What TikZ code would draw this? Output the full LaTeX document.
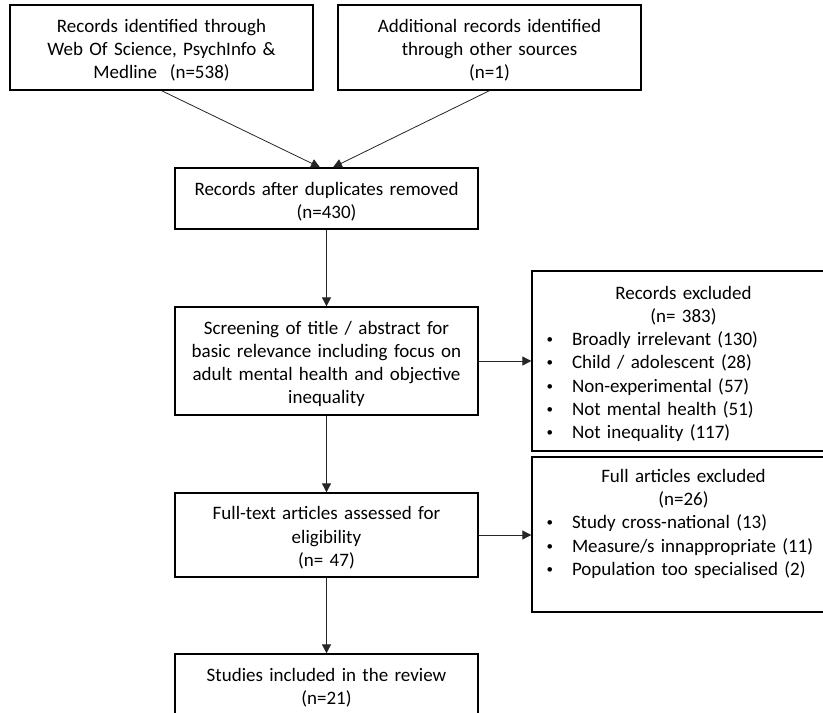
\documentclass[tikz,border=0pt]{standalone}
\usepackage{fontspec}
\setmainfont{Carlito}
\usepackage{tikz}
\usetikzlibrary{arrows.meta}
\newcommand{\boxwidth}{303pt}
\newcommand{\boxline}{1.3pt}
\newcommand{\arrowline}{0.8pt}
\newcommand{\topstrut}{\rule{0pt}{19pt}}
\newcommand{\smallbullet}{\raisebox{2pt}{\fontsize{13}{13}\selectfont\textbullet}}
\newcommand{\bitem}[1]{\makebox[\boxwidth][l]{\hspace{14.5pt}\makebox[25.5pt][l]{\smallbullet}#1}}

\begin{document}
\begin{tikzpicture}[x=1pt, y=-1pt,
  flowbox/.style={draw, line width=\boxline, rectangle, inner sep=0pt,
    minimum width=\boxwidth, text width=\boxwidth, align=center,
    font=\fontsize{19}{23.2}\selectfont, text=black,
    execute at begin node=\topstrut},
  flowarrow/.style={draw, line width=\arrowline, black!85, -{Triangle[length=9pt, width=9pt]}}]
\clip (0,0) rectangle (823,713);
\fill[white] (0,0) rectangle (823,713);
%identification
\node[flowbox, minimum height=85pt] (1) at (161.5, 47.5) {Records identified through\\Web Of Science, PsychInfo \&\\Medline \ (n=538)};
\node[flowbox, minimum height=85pt] (2) at (489.5, 47.5) {Additional records identified\\through other sources\\(n=1)};
%screening
\node[flowbox, minimum height=61pt] (3) at (326.5, 198.5) {Records after duplicates removed\\(n=430)};
\node[flowbox, minimum height=108pt] (4) at (326.5, 361) {Screening of title / abstract for\\basic relevance including focus on\\adult mental health and objective\\inequality};
%eligibility
\node[flowbox, minimum height=84pt] (5) at (326.5, 535) {Full-text articles assessed for\\eligibility\\(n= 47)};
%included
\node[flowbox, minimum height=62pt] (6) at (326.5, 685) {Studies included in the review\\(n=21)};
%excluded
\node[flowbox, minimum height=180pt] (7) at (683.5, 361) {Records excluded\\(n= 383)\\
  \bitem{Broadly irrelevant (130)}\\
  \bitem{Child / adolescent (28)}\\
  \bitem{Non-experimental (57)}\\
  \bitem{Not mental health (51)}\\
  \bitem{Not inequality (117)}};
\node[flowbox, minimum height=155pt] (8) at (683.5, 534.5) {Full articles excluded\\(n=26)\\
  \bitem{Study cross-national (13)}\\
  \bitem{Measure/s innappropriate (11)}\\
  \bitem{Population too specialised (2)}\\ \strut};
%connectors
\draw[flowarrow] (1.south) -- ([xshift=-6.5pt]3.north);
\draw[flowarrow] (2.south) -- ([xshift=6.5pt]3.north);
\draw[flowarrow] (3.south) -- (4.north);
\draw[flowarrow] (4.east) -- (7.west);
\draw[flowarrow] (4.south) -- (5.north);
\draw[flowarrow] (5.east) -- (5.east -| 8.west);
\draw[flowarrow] (5.south) -- (6.north);
\end{tikzpicture}
\end{document}
